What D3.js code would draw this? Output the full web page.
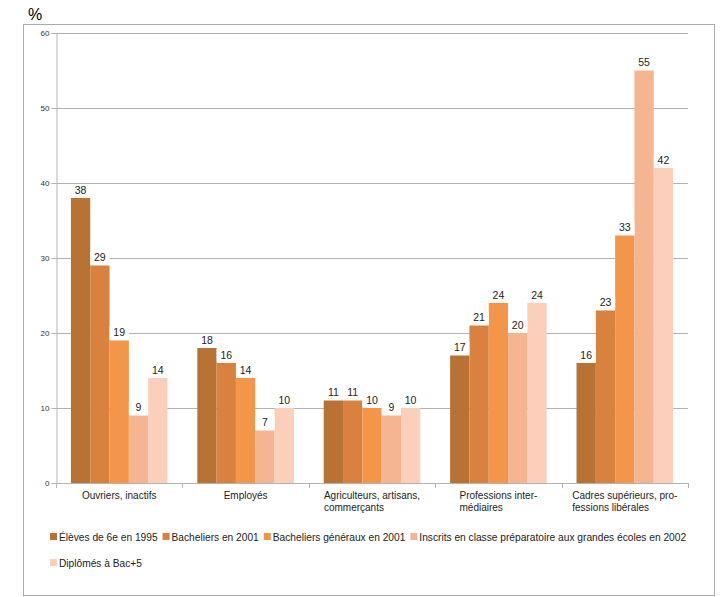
<!DOCTYPE html>
<html><head><meta charset="utf-8">
<script src="https://cdn.jsdelivr.net/npm/d3@7/dist/d3.min.js"></script>
<style>body{margin:0;background:#fff}svg{display:block;font-family:"Liberation Sans",Arial,sans-serif}</style>
</head><body><svg id="c" width="724" height="597"></svg>
<script>
const categories = [["Ouvriers, inactifs"],["Employés"],["Agriculteurs, artisans,","commerçants"],["Professions inter-","médiaires"],["Cadres supérieurs, pro-","fessions libérales"]];
const seriesNames = ["Élèves de 6e en 1995","Bacheliers en 2001","Bacheliers généraux en 2001","Inscrits en classe préparatoire aux grandes écoles en 2002","Diplômés à Bac+5"];
const eleves1995 = [38,18,11,17,16];
const bacheliers2001 = [29,16,11,21,23];
const bacGeneraux2001 = [19,14,10,24,33];
const prepa2002 = [9,7,9,20,55];
const bac5 = [14,10,10,24,42];
const yTicks = [0,10,20,30,40,50,60];
const colors = ["#b87234","#d9823f","#f4964a","#f6b592","#fbcfba"];

const values = [eleves1995,bacheliers2001,bacGeneraux2001,prepa2002,bac5];
const svg = d3.select("#c");
svg.append("rect").attr("x",23.5).attr("y",24.5).attr("width",691).attr("height",571).attr("fill","#fff").attr("stroke","#ababab");
svg.append("text").attr("x",28).attr("y",20).attr("font-size",16).text("%");

const L=56,R=688,T=33,B=483;
const y=d3.scaleLinear().domain([0,60]).range([B,T]);
const x=d3.scaleBand().domain(d3.range(5)).range([L,R]).paddingInner(0).paddingOuter(0);
const bw=x.bandwidth(), gw=bw*0.764;
const xs=d3.scaleBand().domain(d3.range(5)).range([(bw-gw)/2,(bw+gw)/2]);

// grid
svg.append("g").selectAll("line").data(yTicks.filter(d=>d>0)).join("line")
 .attr("x1",L).attr("x2",R).attr("y1",d=>Math.round(y(d))+0.5).attr("y2",d=>Math.round(y(d))+0.5).attr("stroke","#b3b3b3");

// bars
const gb=svg.append("g");
values.forEach((vals,s)=>{
  gb.selectAll(null).data(vals).join("rect")
   .attr("x",(d,i)=>x(i)+xs(s)).attr("width",xs.bandwidth())
   .attr("y",d=>y(d)).attr("height",d=>B-y(d)).attr("fill",colors[s]);
});
// labels
values.forEach((vals,s)=>{
  const g=svg.append("g");
  g.selectAll(null).data(vals).join("rect")
   .attr("x",(d,i)=>x(i)+xs(s)).attr("width",xs.bandwidth())
   .attr("y",d=>y(d)-14).attr("height",13).attr("fill","#fff");
  g.selectAll(null).data(vals).join("text")
   .attr("x",(d,i)=>x(i)+xs(s)+xs.bandwidth()/2).attr("y",d=>y(d)-4.5)
   .attr("text-anchor","middle").attr("font-size",10.5).attr("fill","#222").text(d=>d);
});

// y axis
const ya=svg.append("g").attr("transform",`translate(${L+0.5},0)`).call(d3.axisLeft(y).tickValues(yTicks).tickSize(5).tickPadding(2));
ya.select(".domain").attr("stroke","#b3b3b3");
ya.selectAll(".tick line").attr("stroke","#b3b3b3");
ya.selectAll(".tick text").attr("font-size",8).attr("fill","#333").attr("font-family","Liberation Sans, Arial, sans-serif");

// x axis
svg.append("line").attr("x1",L).attr("x2",R).attr("y1",B+0.5).attr("y2",B+0.5).attr("stroke","#b3b3b3");
svg.append("g").selectAll("line").data(d3.range(6)).join("line")
 .attr("x1",i=>Math.round(L+i*bw)+0.5).attr("x2",i=>Math.round(L+i*bw)+0.5).attr("y1",B).attr("y2",B+5).attr("stroke","#b3b3b3");
const cl=svg.append("g");
categories.forEach((lines,i)=>{
  const t=cl.append("text").attr("font-size",10).attr("fill","#222");
  lines.forEach((ln,j)=>t.append("tspan").attr("y",B+16+j*11.7).text(ln));
  const w=d3.max(t.selectAll("tspan").nodes(),n=>n.getComputedTextLength());
  t.selectAll("tspan").attr("x",x(i)+bw/2-w/2);
});

// legend
const lg=svg.append("g");
let lx=50, ly=537;
seriesNames.forEach((n,i)=>{
  const g=lg.append("g");
  const t=g.append("text").attr("font-size",10.2).attr("fill","#222").text(n);
  const w=t.node().getComputedTextLength();
  if(lx+9+w>712){lx=50;ly+=26;}
  g.append("rect").attr("x",lx).attr("y",ly-4).attr("width",7).attr("height",7).attr("fill",colors[i]);
  t.attr("x",lx+9).attr("y",ly+4);
  lx+=9+w+5;
});
</script></body></html>
